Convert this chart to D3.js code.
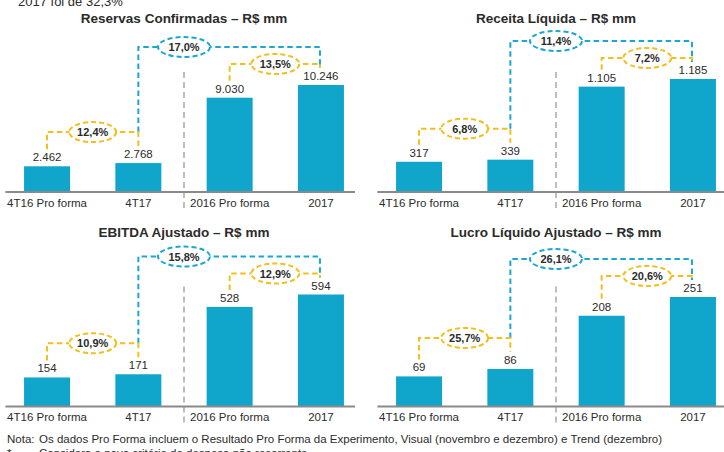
<!DOCTYPE html>
<html>
<head>
<meta charset="utf-8">
<script src="https://cdn.jsdelivr.net/npm/d3@7"></script>
<style>
  body { margin: 0; background: #fff; }
  svg { display: block; font-family: "Liberation Sans", Arial, sans-serif; }
</style>
</head>
<body>
<script>
// dados (R$ mm)
const categories = ["4T16 Pro forma", "4T17", "2016 Pro forma", "2017"];
const reservas = [2462, 2768, 9030, 10246];
const receita = [317, 339, 1105, 1185];
const ebitda = [154, 171, 528, 594];
const lucro = [69, 86, 208, 251];

const titles = ["Reservas Confirmadas – R$ mm", "Receita Líquida – R$ mm",
                "EBITDA Ajustado – R$ mm", "Lucro Líquido Ajustado – R$ mm"];
// crescimento 4T16 x 4T17, 2016 x 2017, 4T16 x 2017
const growthQuarter = [12.4, 6.8, 10.9, 25.7];
const growthYear = [13.5, 7.2, 12.9, 20.6];
const growthCross = [17.0, 11.4, 15.8, 26.1];

const headText = "2017 foi de 32,3%";
const noteText = "Os dados Pro Forma incluem o Resultado Pro Forma da Experimento, Visual (novembro e dezembro) e Trend (dezembro)";
const starText = "Considera o novo critério de despesa não recorrente";

const br = d3.formatLocale({decimal: ",", thousands: ".", grouping: [3], currency: ["R$", ""]});
const fmtVal = br.format(",d");
const fmtPct = v => br.format(".1f")(v) + "%";

const BAR = "#10a5cb", BLUE = "#1ba7d1", YELLOW = "#f2bf1c", TXT = "#2b2b2b";

const svg = d3.select("body").append("svg")
    .attr("width", 724).attr("height", 452);

// layout of the 4 little charts
const panels = [
  {values: reservas, x0: 1.4, x1: 366.6, base: 192, maxH: 107, axisEnd: 355},
  {values: receita, x0: 373.4, x1: 738.6, base: 192, maxH: 113, axisEnd: 724},
  {values: ebitda, x0: 1.4, x1: 366.6, base: 406.5, maxH: 112, axisEnd: 355},
  {values: lucro, x0: 373.4, x1: 738.6, base: 406.5, maxH: 109.5, axisEnd: 724}
];

svg.append("text").attr("x", 18).attr("y", 5.5)
  .attr("font-size", 13).attr("fill", TXT).text(headText);

panels.forEach((p, k) => {
  const g = svg.append("g");
  const x = d3.scalePoint().domain(categories).range([p.x0, p.x1]).padding(0.5);
  const y = d3.scaleLinear().domain([0, d3.max(p.values)]).range([p.base, p.base - p.maxH]);
  const bw = 46;
  const top = p.values.map(v => y(v));
  const xs = categories.map(c => x(c));
  const sepX = (xs[1] + xs[2]) / 2;

  g.append("text").attr("x", (p.x0 + p.x1) / 2).attr("y", p.base - 169.5)
    .attr("text-anchor", "middle").attr("font-size", 13.5).attr("font-weight", "bold")
    .attr("fill", TXT).text(titles[k]);

  // separator
  g.append("line").attr("x1", sepX).attr("x2", sepX)
    .attr("y1", p.base - 120).attr("y2", p.base + 16)
    .attr("stroke", "#a3a3a3").attr("stroke-width", 1.4).attr("stroke-dasharray", "6,4");

  g.selectAll("rect.bar").data(p.values).join("rect")
    .attr("class", "bar")
    .attr("x", (d, i) => xs[i] - bw / 2)
    .attr("y", d => y(d))
    .attr("width", bw)
    .attr("height", d => p.base - y(d))
    .attr("fill", BAR);

  g.append("line").attr("x1", p.x0 + 4).attr("x2", p.axisEnd)
    .attr("y1", p.base).attr("y2", p.base)
    .attr("stroke", "#8a8a8a").attr("stroke-width", 2);

  g.selectAll("text.val").data(p.values).join("text")
    .attr("class", "val")
    .attr("x", (d, i) => xs[i]).attr("y", d => y(d) - 5)
    .attr("text-anchor", "middle").attr("font-size", 11.5).attr("fill", TXT)
    .text(d => fmtVal(d));

  g.selectAll("text.cat").data(categories).join("text")
    .attr("class", "cat")
    .attr("x", d => x(d)).attr("y", p.base + 14.5)
    .attr("text-anchor", "middle").attr("font-size", 11.5).attr("fill", TXT)
    .text(d => d);

  // connectors
  const y1 = Math.min(top[0], top[1]) - 31;
  const y2 = top[3] - 21;
  const yb = y2 - 17;
  const end = i => top[i] - 17;

  const dashed = (d, col) => g.append("path").attr("d", d)
    .attr("fill", "none").attr("stroke", col).attr("stroke-width", 2)
    .attr("stroke-dasharray", "5.5,3.5");

  dashed(`M${xs[1]},${y1}V${yb}H${xs[3] - 1}V${end(3)}`, BLUE);
  dashed(`M${xs[0]},${end(0)}V${y1}H${xs[1]}V${end(1)}`, YELLOW);
  dashed(`M${xs[2]},${end(2)}V${y2}H${xs[3] - 1}V${end(3)}`, YELLOW);

  const bubble = (cx, cy, rx, col, label) => {
    g.append("ellipse").attr("cx", cx).attr("cy", cy).attr("rx", rx).attr("ry", 10)
      .attr("fill", "#fff").attr("stroke", col).attr("stroke-width", 2)
      .attr("stroke-dasharray", "5,3");
    g.append("text").attr("x", cx).attr("y", cy + 4).attr("text-anchor", "middle")
      .attr("font-size", 11).attr("font-weight", "bold").attr("fill", TXT).text(label);
  };
  bubble((xs[0] + xs[1]) / 2, y1, 23.5, YELLOW, fmtPct(growthQuarter[k]));
  bubble((xs[2] + xs[3]) / 2, y2, 24, YELLOW, fmtPct(growthYear[k]));
  bubble(sepX, yb, 26, BLUE, fmtPct(growthCross[k]));
});

// rodapé
svg.append("text").attr("x", 7).attr("y", 443).attr("font-size", 11.5).attr("fill", TXT).text("Nota:");
svg.append("text").attr("x", 39).attr("y", 443).attr("font-size", 11.5).attr("fill", TXT).text(noteText);
svg.append("text").attr("x", 7).attr("y", 457).attr("font-size", 11.5).attr("fill", TXT).text("*");
svg.append("text").attr("x", 39).attr("y", 457).attr("font-size", 11.5).attr("fill", TXT).text(starText);
</script>
</body>
</html>
